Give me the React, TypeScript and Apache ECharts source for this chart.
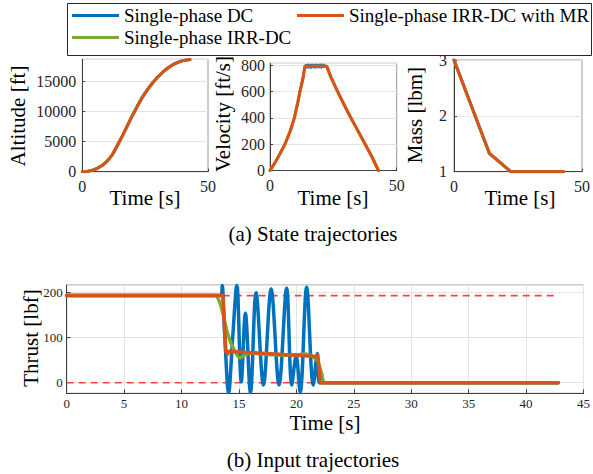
import React, { useEffect, useRef } from 'react';
import * as echarts from 'echarts';

const FONT = "'Liberation Serif', 'Times New Roman', serif";
const SERIES_NAMES = ['Single-phase DC', 'Single-phase IRR-DC', 'Single-phase IRR-DC with MR'];
const COLORS = ['#0072BD', '#77AC30', '#D95319'];

// Altitude [ft]
const timeAlt = [0, 2, 4, 6, 8, 10, 12, 14, 16, 18, 20, 22, 24, 26, 28, 30, 32, 34, 36, 38, 40, 42.8];
const altitude = [0, 50, 230, 560, 1070, 1800, 2850, 4400, 6000, 7700, 9400, 11000, 12450, 13700, 14800, 15750, 16550, 17250, 17800, 18200, 18480, 18650];

// Velocity [ft/s]
const timeVel = [0, 2, 4, 5.9, 8, 9.6, 11, 11.8, 13, 13.8, 22.4, 24, 26, 28, 30.5, 33, 36.5, 40, 42.8];
const velocity = [0, 60, 130, 200, 300, 400, 520, 600, 700, 792, 792, 712, 628, 548, 452, 362, 238, 112, 0];
const timeVelDC = [0, 2, 4, 5.9, 8, 9.6, 11, 11.8, 13, 13.8, 14.2, 14.6, 15, 15.4, 15.8, 16.2, 16.6, 17, 17.4, 17.8, 18.2, 18.6, 19, 19.4, 19.8, 20.2, 20.6, 21, 21.4, 21.8, 22.4, 24, 26, 28, 30.5, 33, 36.5, 40, 42.8];
const velocityDC = [0, 60, 130, 200, 300, 400, 520, 600, 700, 792, 804, 781, 806, 782, 804, 780, 806, 784, 804, 781, 805, 783, 804, 784, 806, 781, 806, 785, 803, 788, 792, 712, 628, 548, 452, 362, 238, 112, 0];

// Mass [lbm]
const timeMass = [0, 13.8, 22.2, 42.8];
const mass = [3, 1.33, 1.0, 1.0];

// Thrust [lbf]
const timeThrustDC = [0, 13.45, 13.54, 13.75, 14.1, 14.45, 14.81, 15.2, 15.56, 16.0, 16.49, 17.13, 17.8, 18.49, 19.15, 19.6, 19.98, 20.33, 20.89, 21.47, 21.82, 22.0, 42.8];
const thrustDC = [193.5, 193.5, 216, 110, -22, 100, 216, 2, 154, -22, 200, -5, 208, -5, 210, -5, 60, -22, 212, -5, 65, 0, 0];
const timeThrustIRR = [0, 12.9, 13.3, 13.6, 14.0, 14.5, 15.1, 15.5, 16.0, 17, 18, 19, 20, 20.8, 21.2, 21.8, 22.2, 22.5, 42.8];
const thrustIRR = [193.5, 193.5, 180, 154, 110, 77, 55, 62, 66, 64, 62, 61, 62, 64, 61, 50, 20, 0, 0];
const timeThrustMR = [0, 13.6, 13.85, 14.0, 14.1, 21.7, 21.85, 22.1, 42.8];
const thrustMR = [193.5, 193.5, 71, 63, 70, 58, 62, 0, 0];

const boundTime = [0, 42.8];
const thrustUpper = [193.5, 193.5];
const thrustLower = [0, 0];

const zip = (t: number[], v: number[]) => t.map((x, i) => [x, v[i]]);

const axisLineStyle = { color: '#404040', width: 1 };
const gridLineStyle = { color: '#e3e3e3', width: 1 };

function labelStyle(size: number, margin: number, extra: any = {}) {
  return {
    fontFamily: FONT, fontSize: size, color: '#262626', margin,
    formatter: (v: number) => String(v),
    ...extra,
  };
}

function topX(gridIndex: number) {
  return {
    type: 'value', gridIndex, min: 0, max: 50, interval: 50,
    axisLine: { show: true, onZero: false, lineStyle: axisLineStyle },
    axisTick: { show: true, inside: true, length: 3, lineStyle: axisLineStyle },
    axisLabel: labelStyle(16, 7),
    splitLine: { show: false },
  };
}

function topY(gridIndex: number, min: number, max: number, interval: number, margin: number) {
  return {
    type: 'value', gridIndex, min, max, interval,
    axisLine: { show: true, onZero: false, lineStyle: axisLineStyle },
    axisTick: { show: true, inside: true, length: 3, lineStyle: axisLineStyle },
    axisLabel: labelStyle(16, margin, { showMaxLabel: max % interval === 0 }),
    splitLine: { show: true, lineStyle: gridLineStyle },
  };
}

function lineSeries(name: string, color: string, data: number[][], xi: number, width = 3, smooth: any = false) {
  return {
    type: 'line', name, xAxisIndex: xi, yAxisIndex: xi, data,
    showSymbol: false, symbol: 'none', smooth,
    lineStyle: { color, width, cap: 'round', join: 'round' },
    itemStyle: { color },
    z: 3,
  };
}

function txt(text: string, x: number, y: number, size: number, rotate = false) {
  return {
    type: 'text', x, y, rotation: rotate ? Math.PI / 2 : 0,
    style: { text, fontFamily: FONT, fontSize: size, fill: '#000', align: 'center', verticalAlign: 'middle' },
  };
}

export default function App() {
  const ref = useRef<HTMLDivElement>(null);
  useEffect(() => {
    document.body.style.margin = '0';
    if (!ref.current) return;
    const chart = echarts.init(ref.current, undefined, { renderer: 'svg' });
    const alt = zip(timeAlt, altitude);
    const mas = zip(timeMass, mass);
    const vel = zip(timeVel, velocity);
    const legendBase = {
      orient: 'horizontal', padding: 0, itemWidth: 47, itemHeight: 3, icon: 'rect',
      textStyle: { fontFamily: FONT, fontSize: 19, color: '#000' },
      selectedMode: false,
    };
    const option: any = {
      animation: false,
      backgroundColor: '#fff',
      textStyle: { fontFamily: FONT },
      legend: [
        { ...legendBase, data: [SERIES_NAMES[0]], left: 72, top: 6 },
        { ...legendBase, data: [SERIES_NAMES[2]], left: 297, top: 6 },
        { ...legendBase, data: [SERIES_NAMES[1]], left: 72, top: 28 },
      ],
      grid: [
        { left: 82.3, top: 59.3, width: 125.7, height: 112.4, show: true, borderColor: '#9a9a9a', borderWidth: 1 },
        { left: 270, top: 63.3, width: 126.7, height: 107.2, show: true, borderColor: '#9a9a9a', borderWidth: 1 },
        { left: 454, top: 60, width: 131, height: 111.7, show: true, borderColor: '#9a9a9a', borderWidth: 1 },
        { left: 66.7, top: 285, width: 518.3, height: 108.3, show: true, borderColor: '#9a9a9a', borderWidth: 1 },
      ],
      xAxis: [
        topX(0), topX(1), topX(2),
        {
          type: 'value', gridIndex: 3, min: 0, max: 45, interval: 5,
          axisLine: { show: true, onZero: false, lineStyle: axisLineStyle },
          axisTick: { show: true, inside: true, length: 4, lineStyle: axisLineStyle },
          axisLabel: labelStyle(13, 4),
          splitLine: { show: true, lineStyle: gridLineStyle },
        },
      ],
      yAxis: [
        topY(0, 0, 18700, 5000, 6),
        topY(1, 0, 815, 200, 5),
        topY(2, 1, 3, 1, 7),
        {
          type: 'value', gridIndex: 3, min: -23.5, max: 217, splitNumber: 2,
          axisLine: { show: true, onZero: false, lineStyle: axisLineStyle },
          axisTick: { show: true, inside: true, length: 4, lineStyle: axisLineStyle },
          axisLabel: labelStyle(13, 4, { showMinLabel: false, showMaxLabel: false }),
          splitLine: { show: true, lineStyle: gridLineStyle },
        },
      ],
      series: [
        lineSeries(SERIES_NAMES[0], COLORS[0], alt, 0),
        lineSeries(SERIES_NAMES[1], COLORS[1], alt, 0),
        lineSeries(SERIES_NAMES[2], COLORS[2], alt, 0),
        lineSeries(SERIES_NAMES[0], COLORS[0], zip(timeVelDC, velocityDC), 1, 2),
        lineSeries(SERIES_NAMES[1], COLORS[1], vel, 1),
        lineSeries(SERIES_NAMES[2], COLORS[2], vel, 1),
        lineSeries(SERIES_NAMES[0], COLORS[0], mas, 2),
        lineSeries(SERIES_NAMES[1], COLORS[1], mas, 2),
        lineSeries(SERIES_NAMES[2], COLORS[2], mas, 2),
        {
          type: 'line', name: 'Upper bound', xAxisIndex: 3, yAxisIndex: 3, data: zip(boundTime, thrustUpper),
          showSymbol: false, symbol: 'none', lineStyle: { color: '#ee4646', width: 1.6, type: [7, 5] }, z: 2,
        },
        {
          type: 'line', name: 'Lower bound', xAxisIndex: 3, yAxisIndex: 3, data: zip(boundTime, thrustLower),
          showSymbol: false, symbol: 'none', lineStyle: { color: '#ee4646', width: 1.6, type: [7, 5] }, z: 2,
        },
        lineSeries(SERIES_NAMES[0], COLORS[0], zip(timeThrustDC, thrustDC), 3, 3.5, 0.35),
        lineSeries(SERIES_NAMES[1], COLORS[1], zip(timeThrustIRR, thrustIRR), 3, 3.5, 0.3),
        lineSeries(SERIES_NAMES[2], COLORS[2], zip(timeThrustMR, thrustMR), 3, 3.5),
      ],
      graphic: [
        { type: 'rect', shape: { x: 67.5, y: 3.5, width: 524, height: 52 }, style: { fill: 'none', stroke: '#262626', lineWidth: 1 }, z: -1 },
        txt('Altitude [ft]', 18, 116, 21, true),
        txt('Velocity [ft/s]', 223, 114, 21, true),
        txt('Mass [lbm]', 415, 115, 21, true),
        txt('Time [s]', 145, 198, 21),
        txt('Time [s]', 333, 198, 21),
        txt('Time [s]', 520, 198, 21),
        txt('Thrust [lbf]', 31, 338, 21, true),
        txt('Time [s]', 325, 423, 21),
        txt('(a) State trajectories', 313, 234, 21),
        txt('(b) Input trajectories', 313, 460, 21),
      ],
    };
    chart.setOption(option);
    return () => chart.dispose();
  }, []);
  return <div ref={ref} style={{ width: 593, height: 474 }} />;
}
